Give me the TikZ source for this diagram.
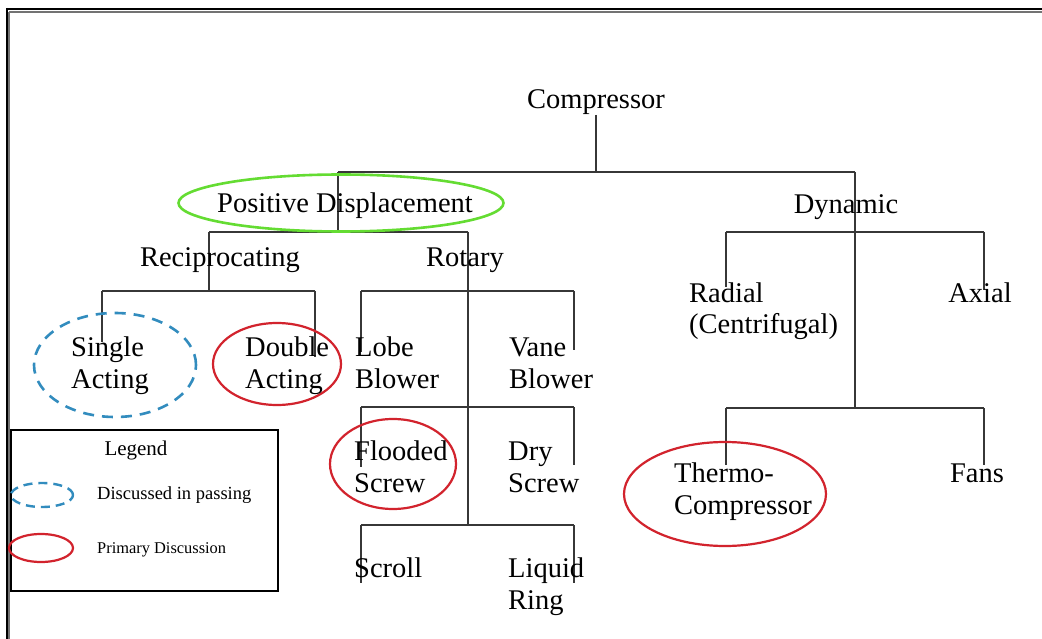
\documentclass[tikz,border=0pt]{standalone}
\usepackage{fontspec}
\setmainfont{Liberation Serif}
\usetikzlibrary{shapes.geometric}
\definecolor{lineC}{RGB}{55,55,55}
\definecolor{pdgreen}{RGB}{100,220,50}
\definecolor{dblue}{RGB}{50,140,190}
\definecolor{pred}{RGB}{210,35,45}
\begin{document}
\begin{tikzpicture}[x=1pt,y=-1pt,
  tree/.style={draw=lineC, line width=1.1pt},
  lbl/.style={font=\fontsize{28.5}{32}\selectfont, inner sep=0pt, anchor=base},
  ml/.style={font=\fontsize{28.5}{32}\selectfont, inner sep=0pt, align=left, anchor=base west},
  ring/.style={ellipse, inner sep=0pt},
  primary/.style={ring, draw=pred, line width=2.2pt},
  passing/.style={ring, draw=dblue, line width=2.6pt, dash pattern=on 11pt off 8pt},
]
\useasboundingbox (0,0) rectangle (1042,639);
\fill[white] (0,0) rectangle (1042,639);
% frame
\draw[black!55, line width=2pt] (9,12) -- (1042,12);
\draw[black!55, line width=2pt] (9,12) -- (9,639);
\draw[black, line width=2pt] (6,9) -- (1042,9);
\draw[black, line width=2pt] (7,8) -- (7,639);

% junction coordinates
\coordinate (c0) at (596,115);
\coordinate (c1) at (596,172);
\coordinate (hl) at (338,172);
\coordinate (hr) at (855,172);
\coordinate (pd1) at (338,232);
\coordinate (pdl) at (209,232);
\coordinate (pdr) at (468,232);
\coordinate (rc1) at (209,291);
\coordinate (rcl) at (102,291);
\coordinate (rcr) at (315,291);
\coordinate (sa) at (102,342);
\coordinate (da) at (315,357);
\coordinate (r1l) at (361,291);
\coordinate (r1r) at (574,291);
\coordinate (lb) at (361,352);
\coordinate (vb) at (574,350);
\coordinate (r2l) at (361,407);
\coordinate (r2r) at (574,407);
\coordinate (fs) at (361,467);
\coordinate (ds) at (574,465);
\coordinate (r3l) at (361,525);
\coordinate (r3r) at (574,525);
\coordinate (rt3) at (468,525);
\coordinate (sc) at (361,583);
\coordinate (lr) at (574,583);
\coordinate (dy2) at (855,408);
\coordinate (d1l) at (726,232);
\coordinate (d1r) at (984,232);
\coordinate (rad) at (726,287);
\coordinate (ax) at (984,290);
\coordinate (d2l) at (726,408);
\coordinate (d2r) at (984,408);
\coordinate (tc) at (726,465);
\coordinate (fn) at (984,465);

% tree lines
\draw[tree] (c0) -- (c1);
\draw[tree] (hl) -- (hr);
\draw[tree] (hl) -- (pd1);
\draw[tree] (pdl) -- (pdr);
\draw[tree] (pdl) -- (rc1);
\draw[tree] (rcl) -- (rcr);
\draw[tree] (rcl) -- (sa);
\draw[tree] (rcr) -- (da);
\draw[tree] (pdr) -- (rt3);
\draw[tree] (r1l) -- (r1r);
\draw[tree] (r1l) -- (lb);
\draw[tree] (r1r) -- (vb);
\draw[tree] (r2l) -- (r2r);
\draw[tree] (r2l) -- (fs);
\draw[tree] (r2r) -- (ds);
\draw[tree] (r3l) -- (r3r);
\draw[tree] (r3l) -- (sc);
\draw[tree] (r3r) -- (lr);
\draw[tree] (hr) -- (dy2);
\draw[tree] (d1l) -- (d1r);
\draw[tree] (d1l) -- (rad);
\draw[tree] (d1r) -- (ax);
\draw[tree] (d2l) -- (d2r);
\draw[tree] (d2l) -- (tc);
\draw[tree] (d2r) -- (fn);

% rings
\node[ring, draw=pdgreen, line width=2.6pt, minimum width=325pt, minimum height=57pt] (pdring) at (341,203) {};
\node[passing, minimum width=162pt, minimum height=104pt] (saring) at (115,365) {};
\node[primary, minimum width=128pt, minimum height=82pt] (daring) at (277,364) {};
\node[primary, minimum width=126pt, minimum height=90pt] (fsring) at (393,464) {};
\node[primary, minimum width=202pt, minimum height=104pt] (tcring) at (725,494) {};

% labels
\node[lbl] (comp) at (596,109) {Compressor};
\node[lbl] (pd) at (345,213) {Positive Displacement};
\node[lbl] (dyn) at (846,214) {Dynamic};
\node[lbl] (recip) at (220,267) {Reciprocating};
\node[lbl] (rot) at (465,267) {Rotary};
\node[ml] (radial) at (689,334) {Radial\\(Centrifugal)};
\node[lbl] (axial) at (980,302) {Axial};
\node[ml] (single) at (71,388) {Single\\Acting};
\node[ml] (double) at (245,388) {Double\\Acting};
\node[ml] (lobe) at (355,388) {Lobe\\Blower};
\node[ml] (vane) at (509,388) {Vane\\Blower};
\node[ml] (flooded) at (354,492) {Flooded\\Screw};
\node[ml] (dry) at (508,492) {Dry\\Screw};
\node[ml] (scroll) at (354,577) {Scroll};
\node[ml] (liquid) at (508,609) {Liquid\\Ring};
\node[ml] (thermo) at (674,514) {Thermo-\\Compressor};
\node[lbl] (fans) at (977,482) {Fans};

% legend
\node[draw=black, line width=2.5pt, minimum width=267pt, minimum height=161pt, inner sep=0pt] (legend) at (144.5,510.5) {};
\node[font=\fontsize{21}{24}\selectfont, inner sep=0pt, anchor=base] (legtitle) at (136,455) {Legend};
\node[ring, draw=dblue, line width=2.4pt, dash pattern=on 9pt off 6pt, minimum width=62pt, minimum height=24pt] (legpass) at (42,495) {};
\node[font=\fontsize{18.5}{22}\selectfont, inner sep=0pt, anchor=base west] (legpasst) at (97,499) {Discussed in passing};
\node[ring, draw=pred, line width=2.2pt, minimum width=64pt, minimum height=28pt] (legprim) at (41,548) {};
\node[font=\fontsize{16.4}{20}\selectfont, inner sep=0pt, anchor=base west] (legprimt) at (97,553) {Primary Discussion};
\end{tikzpicture}
\end{document}
